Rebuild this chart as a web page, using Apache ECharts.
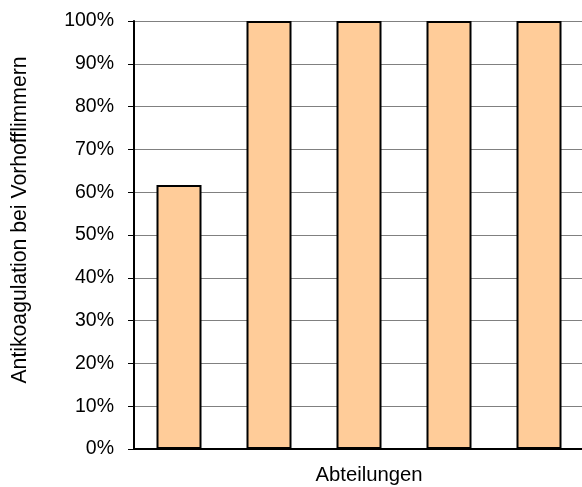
<!DOCTYPE html>
<html>
<head>
<meta charset="utf-8">
<script src="https://cdn.jsdelivr.net/npm/echarts@6/dist/echarts.min.js"></script>
<style>
  html, body { margin: 0; padding: 0; background: #fff; }
  #chart { width: 582px; height: 487px; }
</style>
</head>
<body>
<div id="chart"></div>
<script>
// Anteil der Patienten mit Antikoagulation je Abteilung (in %)
const categories = ['A', 'B', 'C', 'D', 'E'];
const shares = [61.7, 100, 100, 100, 100];
const xTitle = 'Abteilungen';
const yTitle = 'Antikoagulation bei Vorhofflimmern';

const chart = echarts.init(document.getElementById('chart'), null, { renderer: 'canvas' });
const font = '"Liberation Sans", Arial, sans-serif';

chart.setOption({
  animation: false,
  backgroundColor: '#ffffff',
  grid: { left: 134, top: 21, width: 450, height: 428, containLabel: false, outerBoundsMode: 'none' },
  xAxis: {
    type: 'category',
    data: categories,
    axisLine: { lineStyle: { color: '#000', width: 2 } },
    axisTick: { show: false },
    axisLabel: { show: false }
  },
  yAxis: {
    type: 'value',
    min: 0,
    max: 100,
    interval: 10,
    axisLine: { show: true, lineStyle: { color: '#000', width: 2 } },
    axisTick: { show: true, length: 6, lineStyle: { color: '#000', width: 1 } },
    axisLabel: {
      formatter: '{value}%',
      fontFamily: font,
      fontSize: 19.5,
      color: '#000',
      margin: 20
    },
    splitLine: { lineStyle: { color: '#808080', width: 1 } }
  },
  graphic: [
    {
      type: 'text',
      x: 369, y: 475,
      style: { text: xTitle, fontFamily: font, fontSize: 20.3, fill: '#000', align: 'center', verticalAlign: 'middle' }
    },
    {
      type: 'text',
      x: 20, y: 220,
      rotation: Math.PI / 2,
      style: { text: yTitle, fontFamily: font, fontSize: 21.2, fill: '#000', align: 'center', verticalAlign: 'middle' }
    }
  ],
  series: [{
    type: 'bar',
    data: shares,
    barWidth: 45,
    itemStyle: { color: '#FFCC99', borderColor: '#000', borderWidth: 2 }
  }]
});
</script>
</body>
</html>
